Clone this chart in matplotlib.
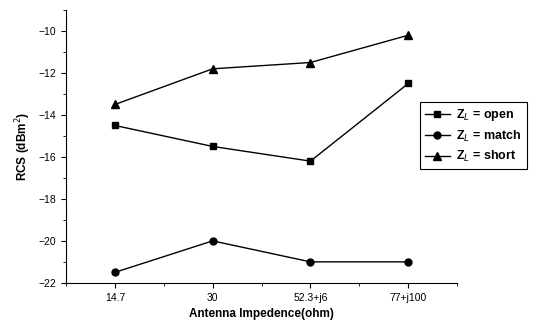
import numpy as np
import matplotlib.pyplot as plt

plt.rcParams['font.family'] = ['Liberation Sans', 'DejaVu Sans']

impedance = ['14.7', '30', '52.3+j6', '77+j100']
open_rcs = [-14.5, -15.5, -16.2, -12.5]
match_rcs = [-21.5, -20.0, -21.0, -21.0]
short_rcs = [-13.5, -11.8, -11.5, -10.2]

fig = plt.figure(figsize=(5.41, 3.24), dpi=100)
ax = fig.add_axes([0.122, 0.127, 0.723, 0.842])
x = np.arange(len(impedance))

ax.plot(x, open_rcs, 'k-', marker='s', ms=5, lw=1, label='Z$_L$ = open')
ax.plot(x, match_rcs, 'k-', marker='o', ms=5, lw=1, label='Z$_L$ = match')
ax.plot(x, short_rcs, 'k-', marker='^', ms=6, lw=1, label='Z$_L$ = short')

ax.set_xlim(-0.5, 3.5)
ax.set_ylim(-22, -9)
ax.set_xticks(x)
ax.set_xticklabels(impedance)
ax.set_xticks([-0.5, 0.5, 1.5, 2.5, 3.5], minor=True)
ax.set_yticks(np.arange(-22, -9, 2))
ax.set_yticks(np.arange(-21, -8, 2), minor=True)
ax.tick_params(labelsize=7.5, direction='out')
ax.spines['top'].set_visible(False)
ax.spines['right'].set_visible(False)

ax.set_xlabel('Antenna Impedence(ohm)', fontsize=8.5, fontweight='bold')
ax.set_ylabel('RCS (dBm$^2$)', fontsize=8.5, fontweight='bold')

leg = ax.legend(loc='upper left', bbox_to_anchor=(0.905, 0.663), borderaxespad=0,
                fancybox=False, framealpha=1, edgecolor='black',
                prop={'size': 9, 'weight': 'bold'},
                handlelength=2.0, handletextpad=0.5, borderpad=0.4,
                labelspacing=0.45)
leg.get_frame().set_linewidth(0.8)

fig.savefig('out.png', dpi=100)
